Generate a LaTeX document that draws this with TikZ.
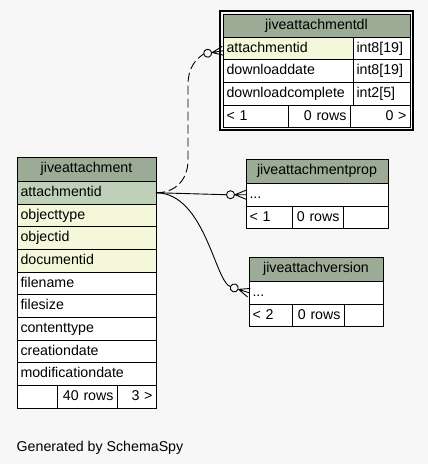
\documentclass[tikz,border=0pt]{standalone}
\usepackage{fontspec}
\setmainfont{Liberation Sans}
\usetikzlibrary{positioning}

\definecolor{bgcol}{HTML}{F7F7F7}
\definecolor{headcol}{HTML}{9BAB96}
\definecolor{pkcol}{HTML}{BED1B8}
\definecolor{idxcol}{HTML}{F4F7DA}

\tikzset{
    tabcell/.style={draw, line width=0.8pt, outer sep=0pt, inner xsep=3.5pt, inner ysep=0pt,
        minimum height=22.65pt, text height=10.5pt, text depth=3pt, align=left,
        font=\fontsize{14.2}{17}\selectfont},
    headcell/.style={tabcell, fill=headcol, align=center, minimum height=24.4pt},
    pkcell/.style={tabcell, fill=pkcol},
    idxcell/.style={tabcell, fill=idxcol},
    plaincell/.style={tabcell, fill=white},
    numcell/.style={tabcell, fill=white, align=right},
    relline/.style={line width=0.9pt},
}

% crow's foot with open circle, #1 = end point, #2 = angle, #3 = where the line comes in
\newcommand{\crowodot}[3]{%
    \begin{scope}[shift={(#1)}, rotate=#2]
        \draw[relline] (-11,0) -- (0,4.5) (-11,0) -- (0,-4.5) (-11,0) -- (0,0);
        \draw[relline, fill=bgcol] (-15.5,0) circle (4);
        \coordinate (#3) at (-19.5,0);
    \end{scope}}

\begin{document}
\begin{tikzpicture}[x=1pt, y=-1pt]
    % Background
    \fill[bgcol] (0,0) rectangle (428,464);

    % jiveattachment
    \node[headcell, text width=132pt, anchor=north west] (att-head) at (17,157) {jiveattachment};
    \node[pkcell, text width=132pt, below=0pt of att-head] (att-attachmentid) {attachmentid};
    \node[idxcell, text width=132pt, below=0pt of att-attachmentid] (att-objecttype) {objecttype};
    \node[idxcell, text width=132pt, below=0pt of att-objecttype] (att-objectid) {objectid};
    \node[idxcell, text width=132pt, below=0pt of att-objectid] (att-documentid) {documentid};
    \node[plaincell, text width=132pt, below=0pt of att-documentid] (att-filename) {filename};
    \node[plaincell, text width=132pt, below=0pt of att-filename] (att-filesize) {filesize};
    \node[plaincell, text width=132pt, below=0pt of att-filesize] (att-contenttype) {contenttype};
    \node[plaincell, text width=132pt, below=0pt of att-contenttype] (att-creationdate) {creationdate};
    \node[plaincell, text width=132pt, below=0pt of att-creationdate] (att-modificationdate) {modificationdate};
    \node[plaincell, text width=33pt, anchor=north west] (att-foot1) at (att-modificationdate.south west) {};
    \node[numcell, text width=53pt, right=0pt of att-foot1] (att-foot2) {40 rows};
    \node[numcell, text width=32pt, right=0pt of att-foot2] (att-foot3) {3 >};

    % jiveattachmentdl
    \node[headcell, text width=180pt, minimum height=23pt, anchor=north west] (dl-head) at (223,14) {jiveattachmentdl};
    \node[idxcell, text width=123pt, anchor=north west] (dl-attachmentid) at (dl-head.south west) {attachmentid};
    \node[plaincell, text width=50pt, right=0pt of dl-attachmentid] (dl-attachmentid-type) {int8[19]};
    \node[plaincell, text width=123pt, below=0pt of dl-attachmentid] (dl-downloaddate) {downloaddate};
    \node[plaincell, text width=50pt, right=0pt of dl-downloaddate] (dl-downloaddate-type) {int8[19]};
    \node[plaincell, text width=123pt, below=0pt of dl-downloaddate] (dl-downloadcomplete) {downloadcomplete};
    \node[plaincell, text width=50pt, right=0pt of dl-downloadcomplete] (dl-downloadcomplete-type) {int2[5]};
    \node[plaincell, text width=58pt, anchor=north west] (dl-foot1) at (dl-downloadcomplete.south west) {< 1};
    \node[numcell, text width=55pt, right=0pt of dl-foot1] (dl-foot2) {0 rows};
    \node[numcell, text width=53pt, right=0pt of dl-foot2] (dl-foot3) {0 >};
    \draw[line width=2pt] ([shift={(-3,-3.5)}]dl-head.north west) rectangle ([shift={(2.5,2.5)}]dl-foot3.south east);

    % jiveattachmentprop
    \node[headcell, text width=135pt, anchor=north west] (prop-head) at (246,159) {jiveattachmentprop};
    \node[plaincell, text width=135pt, below=0pt of prop-head] (prop-dots) {...};
    \node[plaincell, text width=39pt, anchor=north west] (prop-foot1) at (prop-dots.south west) {< 1};
    \node[numcell, text width=44pt, right=0pt of prop-foot1] (prop-foot2) {0 rows};
    \node[numcell, text width=38pt, right=0pt of prop-foot2] (prop-foot3) {};

    % jiveattachversion
    \node[headcell, text width=127pt, anchor=north west] (ver-head) at (249,257) {jiveattachversion};
    \node[plaincell, text width=127pt, below=0pt of ver-head] (ver-dots) {...};
    \node[plaincell, text width=36pt, anchor=north west] (ver-foot1) at (ver-dots.south west) {< 2};
    \node[numcell, text width=45pt, right=0pt of ver-foot1] (ver-foot2) {0 rows};
    \node[numcell, text width=32pt, right=0pt of ver-foot2] (ver-foot3) {};

    % Relationships
    \crowodot{prop-dots.west}{0}{prop-in}
    \draw[relline] (att-attachmentid.east) -- (prop-in);
    \crowodot{ver-dots.west}{-18}{ver-in}
    \draw[relline] (att-attachmentid.east) .. controls (205,193) and (215,282) .. (ver-in);
    \crowodot{[yshift=-2.5pt]dl-attachmentid.west}{9}{dl-in}
    \draw[relline, dash pattern=on 9pt off 4pt] (att-attachmentid.east) .. controls (175,193) and (188,180) .. (188,160)
        -- (188,85) .. controls (188,68) and (195,60) .. (dl-in);

    % Credit
    \node[anchor=base west, inner sep=0pt, font=\fontsize{14.2}{17}\selectfont] (credit) at (16.5,451.7) {Generated by SchemaSpy};
\end{tikzpicture}
\end{document}
